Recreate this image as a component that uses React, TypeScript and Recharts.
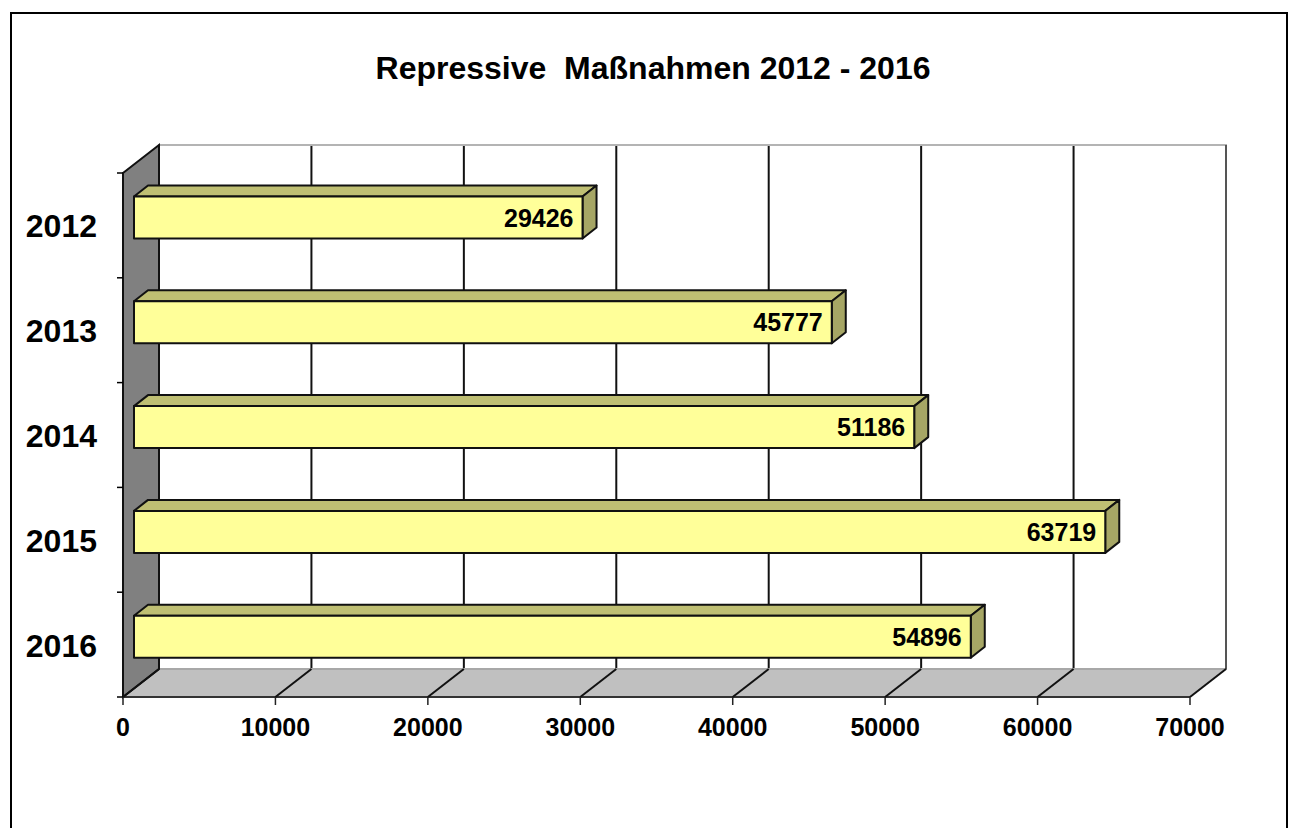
import { BarChart, Bar, XAxis, YAxis, CartesianGrid, LabelList, usePlotArea } from "recharts";

const years = ["2012", "2013", "2014", "2015", "2016"];
const massnahmen = [29426, 45777, 51186, 63719, 54896];
const xTicks = [0, 10000, 20000, 30000, 40000, 50000, 60000, 70000];
const xMax = 70000;
const titleText = "Repressive  Maßnahmen 2012 - 2016";

const data = years.map((year, i) => ({ year, value: massnahmen[i] }));

const FONT = "'Liberation Sans', Arial, sans-serif";
const PLOT_TOP = 173;
const PLOT_HEIGHT = 524;
// depth of the fake 3D box and of the bars standing in it
const WALL_DX = 36;
const WALL_DY = -28;
const BAR_DX = 14;
const BAR_DY = -11;
const BAR_SHIFT_X = 11;
const BAR_SHIFT_Y = -7.5;

function Frame() {
  return <rect x={11} y={13} width={1276} height={900} fill="none" stroke="#000" strokeWidth={2} />;
}

function Title() {
  return (
    <text x={653} y={79} textAnchor="middle" fontFamily={FONT} fontWeight="bold" fontSize={32} fill="#000" style={{ whiteSpace: "pre" }}>
      {titleText}
    </text>
  );
}

function Walls() {
  const plot = usePlotArea();
  if (!plot) return null;
  const { x, y, width, height } = plot;
  const bottom = y + height;
  const right = x + width;
  const band = height / years.length;
  return (
    <g>
      <rect x={x + WALL_DX} y={y + WALL_DY} width={width} height={height} fill="none" stroke="#b4b4b4" strokeWidth={2} />
      <polygon
        points={`${x},${bottom} ${x + WALL_DX},${bottom + WALL_DY} ${right + WALL_DX},${bottom + WALL_DY} ${right},${bottom}`}
        fill="#c0c0c0"
      />
      <line x1={x + WALL_DX} y1={bottom + WALL_DY} x2={right + WALL_DX} y2={bottom + WALL_DY} stroke="#a8a8a8" strokeWidth={2} />
      <line x1={x} y1={bottom} x2={right} y2={bottom} stroke="#333" strokeWidth={2} />
      <polygon
        points={`${x},${y} ${x + WALL_DX},${y + WALL_DY} ${x + WALL_DX},${bottom + WALL_DY} ${x},${bottom}`}
        fill="#808080"
        stroke="#111"
        strokeWidth={2}
      />
      <line x1={right + WALL_DX} y1={y + WALL_DY} x2={right + WALL_DX} y2={bottom + WALL_DY} stroke="#555" strokeWidth={2} />
      {years.concat("").map((_, i) => (
        <line key={i} x1={x - 6} y1={y + band * i} x2={x} y2={y + band * i} stroke="#000" strokeWidth={1.5} />
      ))}
    </g>
  );
}

function Box3D({ x, y, width, height }: any) {
  const left = x + BAR_SHIFT_X;
  const top = y + BAR_SHIFT_Y;
  const right = left + width;
  const bottom = top + height;
  return (
    <g stroke="#111" strokeWidth={2} strokeLinejoin="round">
      <polygon
        points={`${left},${top} ${left + BAR_DX},${top + BAR_DY} ${right + BAR_DX},${top + BAR_DY} ${right},${top}`}
        fill="#bfbf73"
      />
      <polygon
        points={`${right},${top} ${right + BAR_DX},${top + BAR_DY} ${right + BAR_DX},${bottom + BAR_DY} ${right},${bottom}`}
        fill="#a6a665"
      />
      <rect x={left} y={top} width={width} height={height} fill="#ffff99" />
    </g>
  );
}

function BarValue({ x, y, width, height, value }: any) {
  return (
    <text
      x={x + BAR_SHIFT_X + width - 9}
      y={y + BAR_SHIFT_Y + height / 2 + 9}
      textAnchor="end"
      fontFamily={FONT}
      fontWeight="bold"
      fontSize={25}
      fill="#000"
    >
      {value}
    </text>
  );
}

function YearTick({ x, y, payload }: any) {
  return (
    <text x={x - 26} y={y + 12} textAnchor="end" fontFamily={FONT} fontWeight="bold" fontSize={32} fill="#000">
      {payload.value}
    </text>
  );
}

function ValueTick({ x, y, payload }: any) {
  return (
    <g>
      <line x1={x} y1={y} x2={x + WALL_DX} y2={y + WALL_DY} stroke="#111" strokeWidth={2} />
      <line x1={x} y1={y} x2={x} y2={y + 8} stroke="#222" strokeWidth={1.5} />
      <text x={x} y={y + 39} textAnchor="middle" fontFamily={FONT} fontWeight="bold" fontSize={25} fill="#000">
        {payload.value}
      </text>
    </g>
  );
}

export default function App() {
  return (
    <div style={{ position: "absolute", left: 0, top: 0 }}>
      <BarChart
        width={1290}
        height={828}
        data={data}
        layout="vertical"
        margin={{ top: PLOT_TOP, right: 100, bottom: 0, left: 0 }}
      >
        <Frame />
        <Title />
        <CartesianGrid
          horizontal={false}
          stroke="#111"
          strokeWidth={2}
          y={PLOT_TOP + WALL_DY}
          height={PLOT_HEIGHT}
          verticalCoordinatesGenerator={({ offset }: any) =>
            xTicks.slice(1, -1).map((t) => offset.left + (t / xMax) * offset.width + WALL_DX)
          }
        />
        <Walls />
        <XAxis
          type="number"
          domain={[0, xMax]}
          ticks={xTicks}
          height={131}
          axisLine={false}
          tickLine={false}
          tickSize={0}
          tickMargin={0}
          tick={<ValueTick />}
          interval={0}
        />
        <YAxis
          type="category"
          dataKey="year"
          width={123}
          axisLine={false}
          tickLine={false}
          tickSize={0}
          tickMargin={0}
          tick={<YearTick />}
          interval={0}
        />
        <Bar dataKey="value" barSize={42} shape={<Box3D />} isAnimationActive={false}>
          <LabelList dataKey="value" content={<BarValue />} />
        </Bar>
      </BarChart>
    </div>
  );
}
